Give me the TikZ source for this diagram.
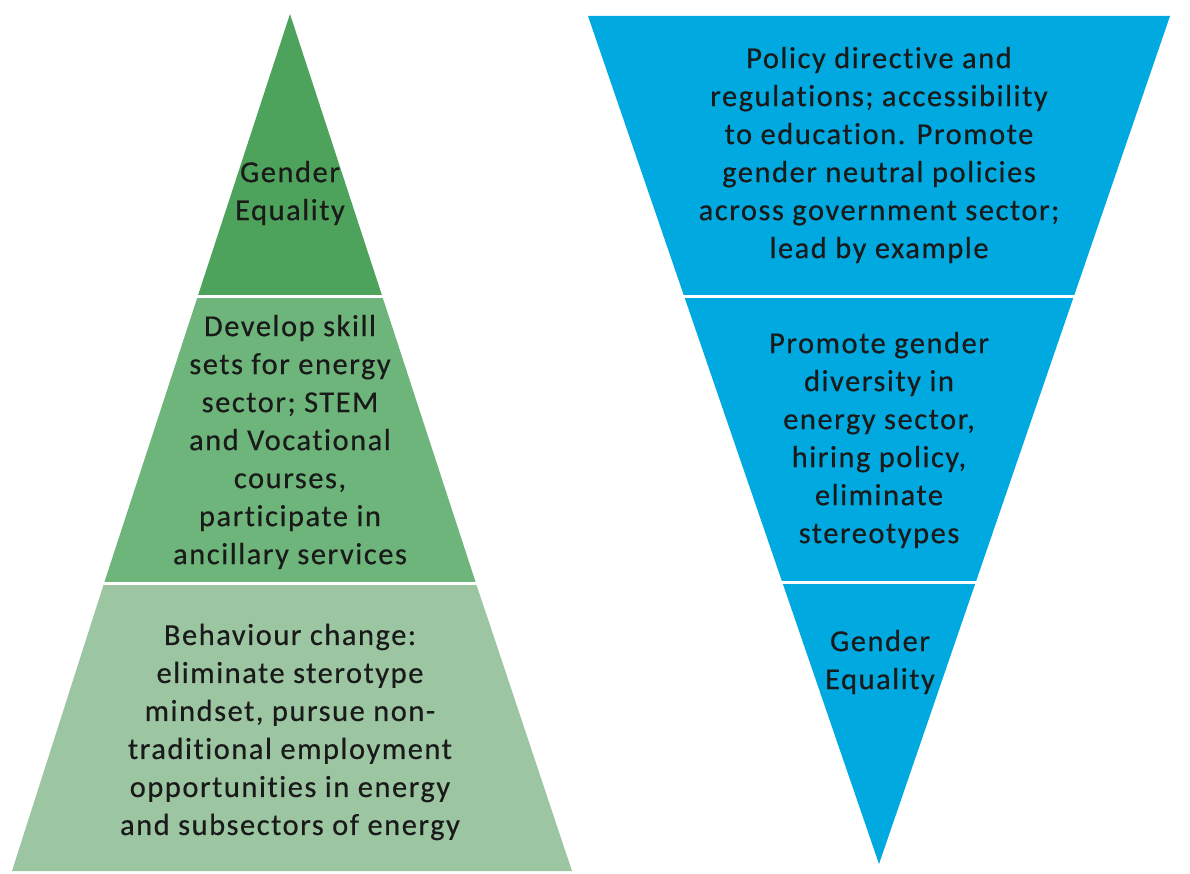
\documentclass[tikz,border=0pt]{standalone}
\usepackage{fontspec}
\setmainfont{Carlito}[LetterSpace=5,Ligatures={NoCommon},FakeBold=0.4]
\definecolor{gdark}{HTML}{4DA35B}
\definecolor{gmid}{HTML}{6DB57B}
\definecolor{glight}{HTML}{9CC6A2}
\definecolor{blu}{HTML}{00A9DF}
\definecolor{txt}{HTML}{1A1A1A}
\begin{document}
\begin{tikzpicture}[x=1pt,y=-1pt,
  lbl/.style={align=center,font=\fontsize{30.5}{38}\selectfont,text=txt,inner sep=0pt},
  gap/.style={draw=white,line width=3pt}]
\useasboundingbox (0,0) rectangle (1190,874);
% left pyramid
\fill[gdark] (290,14) -- (197.5,297) -- (382.5,297) -- cycle;
\fill[gmid] (197.5,297) -- (104.1,583) -- (475.9,583) -- (382.5,297) -- cycle;
\fill[glight] (104.1,583) -- (12,871) -- (572,871) -- (475.9,583) -- cycle;
\draw[gap] (150,297) -- (430,297);
\draw[gap] (60,583) -- (520,583);
% right inverted pyramid
\fill[blu] (588,16) -- (1170,16) -- (1073.6,297) -- (684.4,297) -- cycle;
\fill[blu] (684.4,297) -- (1073.6,297) -- (975.8,582) -- (782.2,582) -- cycle;
\fill[blu] (782.2,582) -- (975.8,582) -- (879,864) -- cycle;
\draw[gap] (650,297) -- (1110,297);
\draw[gap] (740,582) -- (1020,582);
% texts
\node[lbl] (l1) at (290,193) {Gender\\Equality};
\node[lbl] (l2) at (290,442) {Develop skill\\sets for energy\\sector; STEM\\and Vocational\\courses,\\participate in\\ancillary services};
\node[lbl] (l3) at (290,732) {Behaviour change:\\eliminate sterotype\\mindset, pursue non-\\traditional employment\\opportunities in energy\\and subsectors of energy};
\node[lbl] (r1) at (879,155) {Policy directive and\\regulations; accessibility\\to education. Promote\\gender neutral policies\\across government sector;\\lead by example};
\node[lbl] (r2) at (879,440) {Promote gender\\diversity in\\energy sector,\\hiring policy,\\eliminate\\stereotypes};
\node[lbl] (r3) at (880,662) {Gender\\Equality};
\end{tikzpicture}
\end{document}
